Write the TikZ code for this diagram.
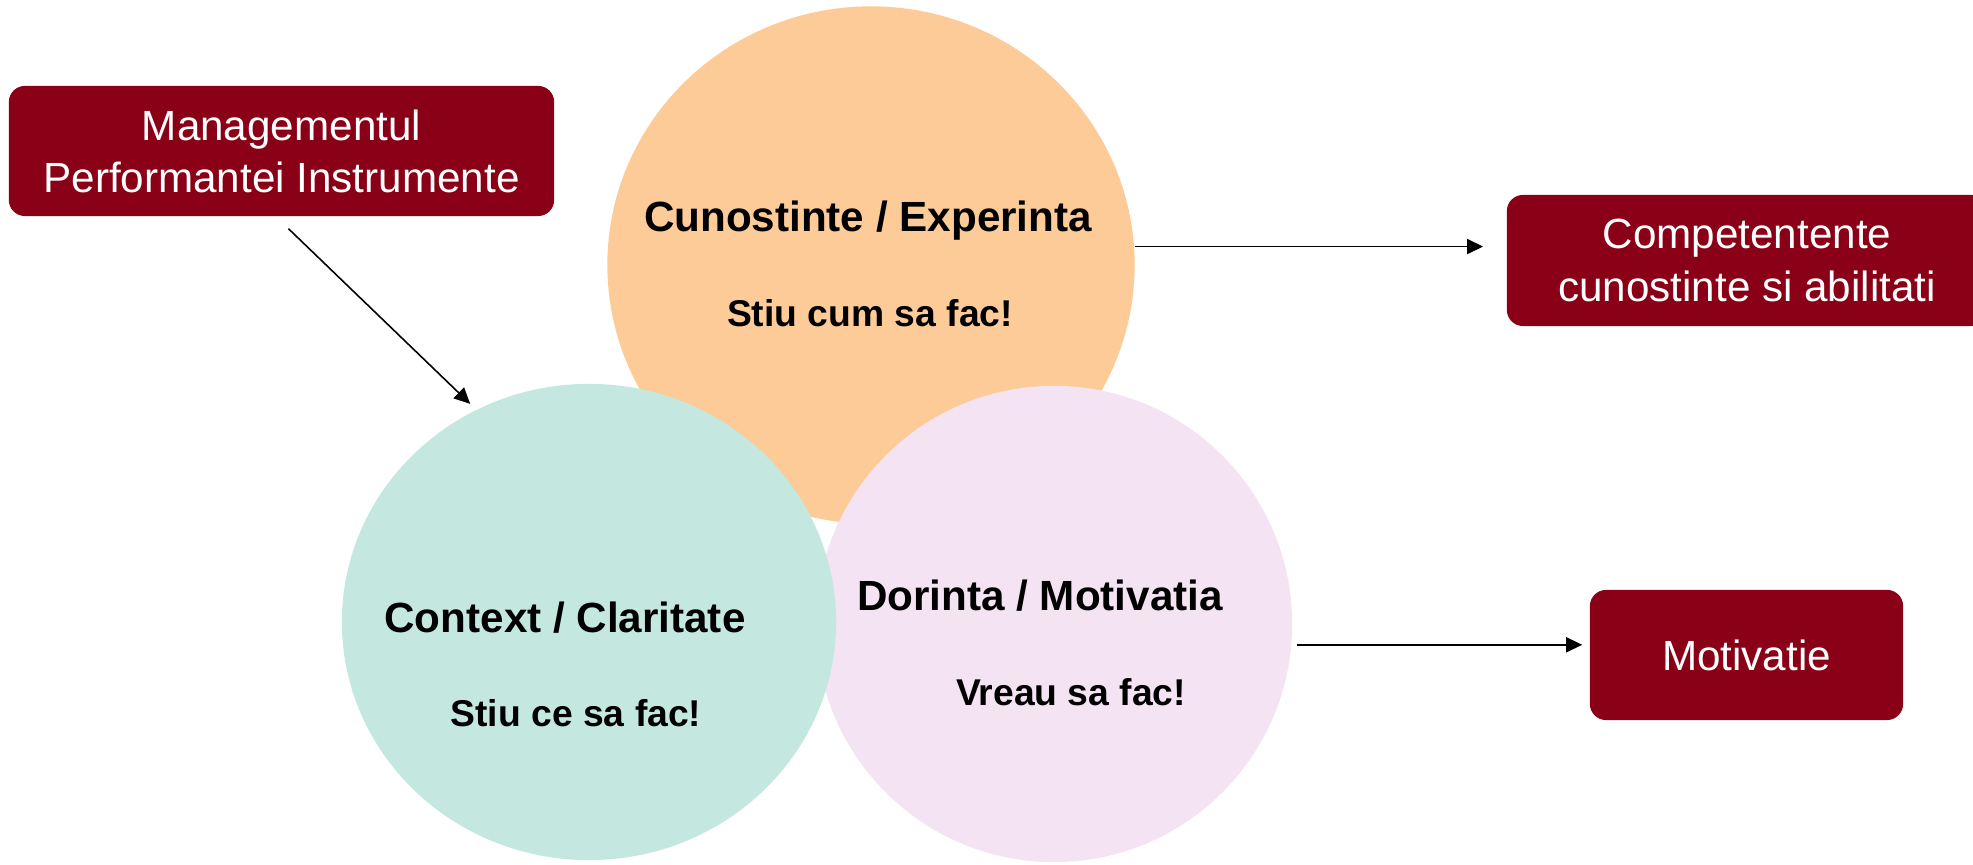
\documentclass[tikz,border=0pt]{standalone}
\usepackage{fontspec}
\setmainfont{Liberation Sans}
\usetikzlibrary{arrows.meta,shapes.geometric,calc}
\definecolor{orangefill}{HTML}{FDCB98}
\definecolor{greenfill}{HTML}{C4E8DF}
\definecolor{pinkfill}{HTML}{F4E3F2}
\definecolor{boxred}{HTML}{8A0016}
\tikzset{
    blob/.style={ellipse, inner sep=0pt},
    redbox/.style={fill=boxred, rounded corners=0.16cm, text=white, align=center,
        font=\fontsize{12}{14.8}\selectfont},
    title/.style={font=\fontsize{12}{14.4}\selectfont\bfseries},
    subtitle/.style={font=\fontsize{10.6}{12.7}\selectfont\bfseries},
    arr/.style={-{Triangle[length=1.6mm,width=1.5mm]}, black, line width=0.45pt}
}
\begin{document}
\begin{tikzpicture}[x=0.01cm, y=-0.01cm]
        \useasboundingbox (0,0) rectangle (1973,865);
        \node
            [blob, fill=orangefill, minimum width=5.27cm, minimum height=5.17cm] (exp) at (871,265) {};
        \node
            [blob, fill=pinkfill, minimum width=4.76cm, minimum height=4.76cm] (desire) at (1054,624) {};
        \node
            [blob, fill=greenfill, minimum width=4.94cm, minimum height=4.76cm] (context) at (589,622) {};
        \node
            [title] (expT) at (868,221) {Cunostinte / Experinta};
        \node
            [subtitle] (expS) at (870,313) {Stiu cum sa fac!};
        \node
            [title] (contextT) at (565,618) {Context / Claritate};
        \node
            [subtitle] (contextS) at (576,713) {Stiu ce sa fac!};
        \node
            [title] (desireT) at (1040,596) {Dorinta / Motivatia};
        \node
            [subtitle] (desireS) at (1071,692) {Vreau sa fac!};
        \node
            [redbox, minimum width=5.45cm, minimum height=1.30cm] (mgmt) at (281.5,151) {Managementul\\Performantei Instrumente};
        \node
            [redbox, minimum width=4.80cm, minimum height=1.31cm] (comp) at (1747,260.5) {Competentente\\cunostinte si abilitati};
        \node
            [redbox, minimum width=3.13cm, minimum height=1.30cm] (motiv) at (1746.5,655) {Motivatie};
        \draw
            [arr, shorten >=0.08cm] ($(mgmt.south)+(7,12)$) -- (context.118);
        \draw
            [arr, shorten >=0.23cm] (exp.4) -- (exp.4 -| comp.west);
        \draw
            [arr, shorten <=0.05cm, shorten >=0.07cm] (desire.-5) -- (desire.-5 -| motiv.west);
    \end{tikzpicture}
\end{document}
